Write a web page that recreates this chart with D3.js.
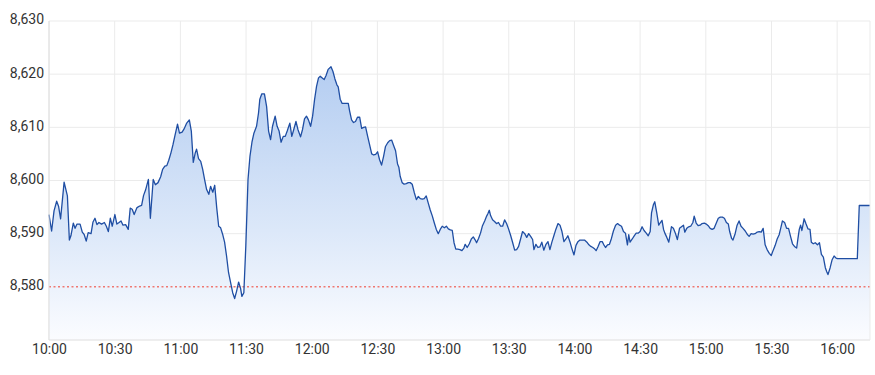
<!DOCTYPE html>
<html>
<head>
<meta charset="utf-8">
<script src="https://cdn.jsdelivr.net/npm/d3@7"></script>
<style>
  body { margin: 0; background: #fff; }
  svg text { font-family: Roboto, "Noto Sans", sans-serif; font-size: 14px; fill: #333; }
</style>
</head>
<body>
<svg class="chart" width="875" height="375"></svg>
<script>
// minutes after 10:00 and index level
const times = [
  0, 1.2, 2.3, 3.5, 4.4, 5.3, 6.9, 8.4, 9.3, 10.0, 11.1, 11.9, 12.8, 14.2, 15.2, 16.1, 17.0, 17.9, 19.2, 20.1,
  21.0, 21.9, 22.8, 24.0, 25.3, 26.2, 27.1, 28.0, 28.9, 30.1, 31.0, 32.0, 32.9, 33.8, 35.0, 36.2, 37.1, 38.0, 38.9, 40.2,
  41.4, 42.3, 43.2, 44.1, 45.4, 46.3, 47.6, 48.6, 49.8, 51.0, 51.9, 52.9, 53.8, 54.7, 55.7, 56.6, 57.5, 58.7, 59.6, 60.8,
  61.7, 62.9, 64.1, 65.0, 65.9, 66.8, 67.4, 68.3, 69.3, 70.2, 71.1, 72.0, 73.0, 73.8, 74.8, 75.7, 76.6, 77.5, 78.4, 79.3,
  80.2, 81.1, 82.0, 83.0, 83.9, 84.8, 85.7, 86.6, 87.5, 88.1, 89.0, 89.9, 90.9, 91.8, 92.7, 93.6, 94.8, 95.7, 96.3, 97.2,
  98.4, 99.4, 100.3, 101.2, 102.1, 103.3, 104.2, 105.1, 106.0, 107.0, 107.9, 108.8, 110.0, 110.9, 111.8, 112.8, 113.7, 114.9, 115.8, 116.7,
  117.6, 118.5, 119.5, 120.4, 121.3, 122.2, 123.1, 123.9, 124.8, 125.7, 126.6, 127.5, 128.8, 129.7, 130.6, 131.5, 132.1, 133.0, 133.9, 135.2,
  136.7, 137.3, 138.2, 139.1, 140.0, 140.9, 141.9, 142.8, 143.7, 144.6, 145.5, 146.4, 147.4, 148.3, 149.2, 150.1, 151.0, 151.9, 152.8, 153.7,
  154.7, 155.6, 156.5, 157.4, 158.3, 159.2, 159.8, 160.4, 161.3, 162.2, 163.2, 164.1, 165.0, 165.9, 166.8, 167.8, 168.7, 169.6, 170.5, 171.4,
  172.3, 173.2, 174.1, 175.1, 176.0, 176.9, 177.8, 178.7, 179.6, 180.6, 181.5, 182.4, 183.3, 184.2, 185.0, 185.8, 186.7, 187.7, 188.6, 189.5,
  190.1, 191.0, 192.0, 192.9, 193.8, 194.7, 195.3, 196.2, 197.1, 198.0, 199.0, 199.9, 200.5, 201.1, 201.7, 202.6, 203.5, 204.4, 205.3, 206.3,
  207.2, 208.1, 209.0, 209.9, 210.9, 211.8, 212.7, 213.6, 214.5, 215.4, 216.3, 217.3, 218.2, 219.1, 220.0, 220.9, 221.5, 222.4, 223.3, 224.2,
  225.1, 226.0, 227.0, 227.9, 228.8, 229.7, 230.6, 231.5, 232.5, 233.4, 234.3, 235.2, 236.1, 237.0, 238.0, 238.9, 239.8, 240.7, 241.6, 242.5,
  243.5, 244.6, 245.7, 246.6, 247.5, 248.4, 249.3, 249.9, 250.8, 251.7, 252.7, 253.3, 254.2, 255.1, 256.0, 256.9, 257.8, 258.8, 259.7, 260.6,
  261.5, 262.4, 263.3, 264.2, 264.8, 265.4, 266.4, 267.3, 268.2, 269.1, 270.0, 270.9, 271.8, 272.8, 273.7, 274.6, 275.2, 276.1, 276.7, 277.6,
  278.5, 279.1, 280.0, 280.7, 281.3, 282.2, 283.1, 283.7, 284.3, 285.2, 286.1, 287.0, 288.0, 288.9, 289.8, 290.4, 291.3, 292.2, 293.1, 294.1,
  294.7, 295.6, 296.5, 297.4, 298.3, 299.3, 300.2, 301.1, 302.0, 302.9, 303.8, 304.8, 305.7, 306.6, 307.6, 308.5, 309.4, 310.3, 310.9, 311.8,
  312.4, 313.4, 314.3, 315.2, 316.1, 317.0, 318.0, 318.9, 319.8, 320.7, 321.6, 322.5, 323.5, 324.4, 325.3, 326.2, 327.1, 328.0, 329.0, 329.9,
  330.8, 331.7, 332.6, 333.5, 334.1, 335.0, 336.0, 336.9, 337.8, 338.7, 339.6, 340.5, 341.5, 342.1, 342.7, 343.3, 343.9, 344.9, 345.8, 346.7,
  347.6, 348.2, 349.1, 350.0, 351.0, 351.9, 352.8, 353.7, 354.6, 355.2, 355.8, 356.8, 357.7, 358.6, 359.5, 360.1, 369.2, 370.1, 375.0
];

const prices = [
  8593.6, 8590.5, 8594.3, 8596.1, 8595.1, 8592.8, 8599.7, 8597.1, 8588.8, 8589.6, 8592.0, 8591.0, 8591.8, 8591.8, 8590.3, 8589.8, 8588.6, 8590.2, 8590.0, 8592.2,
  8592.9, 8591.7, 8592.1, 8591.8, 8592.1, 8591.4, 8590.4, 8592.9, 8591.4, 8593.6, 8591.8, 8592.1, 8592.4, 8591.6, 8591.7, 8590.8, 8594.8, 8594.6, 8593.6, 8594.9,
  8595.2, 8595.3, 8597.2, 8598.2, 8600.2, 8592.9, 8600.2, 8599.2, 8599.6, 8600.7, 8602.1, 8602.7, 8602.8, 8603.8, 8605.2, 8606.7, 8608.4, 8610.6, 8608.9, 8609.1,
  8609.7, 8610.8, 8611.4, 8609.3, 8603.4, 8605.2, 8605.9, 8604.1, 8603.6, 8602.1, 8600.1, 8598.3, 8597.4, 8598.9, 8597.8, 8599.1, 8594.9, 8591.4, 8591.1, 8589.9,
  8588.4, 8585.8, 8582.7, 8580.7, 8578.9, 8577.8, 8579.2, 8580.9, 8579.7, 8578.2, 8578.9, 8587.7, 8600.2, 8604.6, 8607.2, 8608.9, 8610.2, 8612.7, 8615.3, 8616.3,
  8616.3, 8613.9, 8609.3, 8607.7, 8610.2, 8612.1, 8610.2, 8609.3, 8607.2, 8608.3, 8608.3, 8609.3, 8610.8, 8608.3, 8609.6, 8611.1, 8609.6, 8608.2, 8609.6, 8611.6,
  8612.1, 8611.4, 8610.2, 8612.1, 8615.2, 8617.7, 8619.3, 8619.6, 8619.3, 8619.0, 8619.8, 8620.9, 8621.4, 8620.5, 8619.1, 8618.0, 8617.6, 8615.3, 8614.5, 8614.5,
  8614.5, 8613.1, 8611.4, 8610.9, 8611.1, 8611.9, 8611.9, 8609.8, 8610.0, 8610.1, 8608.4, 8606.8, 8605.0, 8604.8, 8604.9, 8605.4, 8603.9, 8602.9, 8604.5, 8606.4,
  8607.1, 8607.5, 8607.6, 8606.6, 8605.6, 8603.1, 8602.5, 8600.8, 8599.6, 8599.3, 8599.4, 8599.6, 8599.6, 8599.3, 8597.8, 8596.4, 8597.0, 8596.6, 8596.5, 8596.6,
  8597.1, 8595.8, 8594.5, 8593.3, 8592.0, 8590.8, 8590.0, 8590.8, 8591.4, 8591.1, 8591.4, 8590.9, 8590.7, 8590.6, 8588.3, 8587.1, 8587.1, 8587.0, 8586.8, 8587.3,
  8588.0, 8587.4, 8588.1, 8589.0, 8589.4, 8588.8, 8588.3, 8589.1, 8590.1, 8591.5, 8592.4, 8593.3, 8593.8, 8594.4, 8593.4, 8592.6, 8592.3, 8591.9, 8592.1, 8591.4,
  8591.4, 8592.6, 8591.9, 8590.9, 8589.6, 8588.3, 8586.9, 8587.0, 8587.6, 8589.0, 8590.4, 8590.0, 8589.3, 8590.0, 8589.5, 8588.9, 8587.0, 8588.0, 8587.4, 8587.5,
  8588.4, 8586.9, 8588.0, 8588.5, 8587.0, 8588.4, 8589.6, 8590.8, 8591.9, 8591.6, 8590.4, 8588.5, 8589.0, 8589.6, 8588.4, 8587.1, 8586.0, 8587.8, 8588.5, 8588.8,
  8588.8, 8588.8, 8588.4, 8587.9, 8587.6, 8587.4, 8587.1, 8586.8, 8587.6, 8588.5, 8588.5, 8588.0, 8587.4, 8587.9, 8588.0, 8589.1, 8590.5, 8591.6, 8591.9, 8591.6,
  8591.4, 8590.4, 8590.1, 8587.9, 8589.8, 8588.4, 8589.0, 8589.6, 8590.1, 8590.1, 8590.4, 8591.3, 8590.6, 8590.1, 8589.6, 8590.4, 8593.9, 8595.5, 8596.0, 8593.9,
  8591.6, 8592.0, 8592.5, 8590.8, 8590.1, 8589.3, 8588.4, 8589.8, 8591.3, 8591.0, 8590.1, 8588.9, 8591.0, 8591.3, 8591.6, 8590.3, 8591.0, 8591.3, 8591.4, 8592.1,
  8593.3, 8592.0, 8591.5, 8591.6, 8591.9, 8592.0, 8591.8, 8591.5, 8591.0, 8590.8, 8591.0, 8592.0, 8592.9, 8593.1, 8593.1, 8592.9, 8592.1, 8591.8, 8590.4, 8589.1,
  8588.8, 8590.0, 8591.6, 8592.4, 8591.4, 8591.0, 8590.5, 8589.9, 8589.5, 8590.0, 8589.9, 8590.0, 8590.3, 8590.4, 8590.3, 8591.0, 8587.9, 8587.0, 8586.3, 8585.9,
  8586.9, 8587.8, 8589.0, 8589.8, 8590.8, 8592.4, 8592.1, 8591.0, 8591.0, 8589.5, 8588.1, 8587.6, 8587.3, 8589.1, 8590.8, 8591.6, 8590.6, 8592.8, 8591.8, 8590.9,
  8590.8, 8588.4, 8588.1, 8588.3, 8587.9, 8588.3, 8586.1, 8585.6, 8583.6, 8582.9, 8582.3, 8583.6, 8585.1, 8585.8, 8585.4, 8585.3, 8585.3, 8595.3, 8595.3
];

// previous close (red dotted line)
const prevClose = 8580;

const yTicks = [8580, 8590, 8600, 8610, 8620, 8630];
const xTickLabels = ["10:00", "10:30", "11:00", "11:30", "12:00", "12:30", "13:00",
                     "13:30", "14:00", "14:30", "15:00", "15:30", "16:00"];

const toMin = s => { const [h, m] = s.split(':').map(Number); return (h - 10) * 60 + m; };

const data = times.map((t, i) => ({ t, v: prices[i] }));

const svg = d3.select('svg.chart');
const plotL = 49, plotR = 870, plotT = 21, plotB = 340;

const x = d3.scaleLinear().domain([0, toMin("16:15")]).range([plotL, plotR]);
const y = d3.scaleLinear().domain([8570, 8630]).range([plotB, plotT]);

// gradient for the area
const grad = svg.append('defs').append('linearGradient')
  .attr('id', 'fillgrad')
  .attr('gradientUnits', 'userSpaceOnUse')
  .attr('x1', 0).attr('x2', 0)
  .attr('y1', y(8621.5)).attr('y2', plotB);
grad.append('stop').attr('offset', '0%').attr('stop-color', '#b4cdf1');
grad.append('stop').attr('offset', '60%').attr('stop-color', '#dce8f9');
grad.append('stop').attr('offset', '100%').attr('stop-color', '#fbfcff');

// grid
svg.append('g')
  .selectAll('line')
  .data(yTicks)
  .join('line')
  .attr('x1', plotL).attr('x2', plotR)
  .attr('y1', d => y(d)).attr('y2', d => y(d))
  .attr('stroke', '#ebebeb');

svg.append('g')
  .selectAll('line')
  .data(xTickLabels)
  .join('line')
  .attr('x1', d => x(toMin(d))).attr('x2', d => x(toMin(d)))
  .attr('y1', plotT).attr('y2', plotB)
  .attr('stroke', '#ebebeb');

// area + line
const area = d3.area().x(d => x(d.t)).y0(plotB).y1(d => y(d.v));
const line = d3.line().x(d => x(d.t)).y(d => y(d.v));

svg.append('path').datum(data).attr('d', area).attr('fill', 'url(#fillgrad)');

svg.append('line')
  .attr('x1', plotL).attr('x2', plotR)
  .attr('y1', y(prevClose)).attr('y2', y(prevClose))
  .attr('stroke', '#f03c2e').attr('stroke-width', 1)
  .attr('stroke-dasharray', '2,2.5');

svg.append('path').datum(data).attr('d', line)
  .attr('fill', 'none').attr('stroke', '#1f4ea3')
  .attr('stroke-width', 1.3).attr('stroke-linejoin', 'round');

// frame
svg.append('line').attr('x1', plotL).attr('x2', plotL).attr('y1', plotT).attr('y2', plotB).attr('stroke', '#dedede');
svg.append('line').attr('x1', plotL).attr('x2', plotR).attr('y1', plotB).attr('y2', plotB).attr('stroke', '#dedede');
svg.append('line').attr('x1', plotR).attr('x2', plotR).attr('y1', plotT).attr('y2', plotB).attr('stroke', '#ebebeb');

// axes
const yAxis = d3.axisLeft(y).tickValues(yTicks).tickSize(0).tickPadding(5).tickFormat(d3.format(','));
const gy = svg.append('g').attr('transform', `translate(${plotL},-1.5)`).call(yAxis);
gy.select('.domain').remove();
gy.selectAll('text').attr('font-size', null).attr('font-family', null);

const xAxis = d3.axisBottom(x).tickValues(xTickLabels.map(toMin)).tickSize(0).tickPadding(4)
  .tickFormat((d, i) => xTickLabels[i]);
const gx = svg.append('g').attr('transform', `translate(0,${plotB})`).call(xAxis);
gx.select('.domain').remove();
gx.selectAll('text').attr('font-size', null).attr('font-family', null);
</script>
</body>
</html>
